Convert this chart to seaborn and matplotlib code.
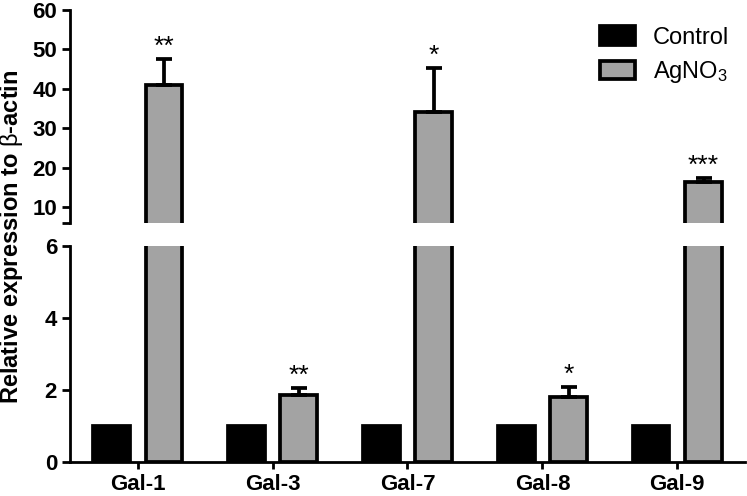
import numpy as np
import matplotlib
matplotlib.use("Agg")
import matplotlib.pyplot as plt
import matplotlib.patches as mpatches
import pandas as pd
import seaborn as sns

genes = ["Gal-1", "Gal-3", "Gal-7", "Gal-8", "Gal-9"]
groups = ["Control", "AgNO$_3$"]
control = [1.0, 1.0, 1.0, 1.0, 1.0]
agno3 = [41.0, 1.86, 34.0, 1.8, 16.3]
agno3_err = [6.5, 0.2, 11.3, 0.28, 1.1]
stars = ["**", "**", "*", "*", "***"]

sns.set_style("ticks")
plt.rcParams["font.family"] = ["Liberation Sans", "DejaVu Sans"]
plt.rcParams["mathtext.fontset"] = "custom"
plt.rcParams["mathtext.rm"] = "Liberation Sans"
plt.rcParams["mathtext.it"] = "Liberation Sans:italic"
plt.rcParams["mathtext.bf"] = "Liberation Sans:bold"
for k in ["text.color", "axes.labelcolor", "xtick.color", "ytick.color", "axes.edgecolor"]:
    plt.rcParams[k] = "black"

df = pd.DataFrame({"gene": genes * 2,
                   "group": [groups[0]] * len(genes) + [groups[1]] * len(genes),
                   "value": control + agno3})
palette = {groups[0]: "black", groups[1]: "#a3a3a3"}

fig = plt.figure(figsize=(7.47, 4.96), dpi=100)
ax_top = fig.add_axes([0.094, 0.550, 0.903, 0.430])
ax_bot = fig.add_axes([0.094, 0.0685, 0.903, 0.4355])

lw = 2.7
for ax in (ax_top, ax_bot):
    sns.barplot(data=df, x="gene", y="value", hue="group", palette=palette,
                width=0.78, gap=0.3, errorbar=None, edgecolor="black",
                linewidth=lw, saturation=1, legend=False, ax=ax)
    bars = ax.containers[1]
    xs = [b.get_x() + b.get_width() / 2 for b in bars]
    ax.errorbar(xs, agno3, yerr=[np.zeros(len(genes)), agno3_err], fmt="none",
                ecolor="black", elinewidth=lw, capsize=6, capthick=lw, zorder=1)
    ax.set_xlim(-0.5, len(genes) - 0.5)
    ax.set_xlabel("")
    ax.set_ylabel("")
    for s in ["top", "right"]:
        ax.spines[s].set_visible(False)
    for s in ["left", "bottom"]:
        ax.spines[s].set_linewidth(2)
    ax.tick_params(axis="y", length=6, width=2, labelsize=16)

# broken axis: top part
ax_top.set_ylim(5.9, 60)
ax_top.set_yticks([5.9, 10, 20, 30, 40, 50, 60])
ax_top.set_yticklabels(["", "10", "20", "30", "40", "50", "60"], fontweight="bold", fontsize=16)
ax_top.spines["bottom"].set_visible(False)
ax_top.tick_params(axis="x", bottom=False, labelbottom=False)

# bottom part
ax_bot.set_ylim(0, 6)
ax_bot.set_yticks([0, 2, 4, 6])
ax_bot.set_yticklabels(["0", "2", "4", "6"], fontweight="bold", fontsize=16)
ax_bot.tick_params(axis="x", length=5, width=2, labelsize=16)
for lab in ax_bot.get_xticklabels():
    lab.set_fontweight("bold")

# significance stars
xs = [b.get_x() + b.get_width() / 2 for b in ax_bot.containers[1]]
for x, v, e, s in zip(xs, agno3, agno3_err, stars):
    ax = ax_top if v + e > 6 else ax_bot
    ax.annotate(s, (x, v + e), xytext=(0, 3.5), textcoords="offset points",
                ha="center", va="baseline", fontsize=19)

fig.text(0.016, 0.522, r"Relative expression to $\mathrm{\beta}$-actin",
         rotation=90, ha="center", va="center", fontsize=17, fontweight="bold")

handles = [mpatches.Patch(facecolor=palette[g], edgecolor="black", linewidth=lw) for g in groups]
fig.legend(handles, groups, loc="upper left", bbox_to_anchor=(600 / 747, 1 - 26 / 496),
           frameon=False, fontsize=17, handlelength=1.5, handleheight=0.85,
           handletextpad=0.75, labelspacing=0.45, borderpad=0, borderaxespad=0)

fig.savefig("out.png", dpi=100)
